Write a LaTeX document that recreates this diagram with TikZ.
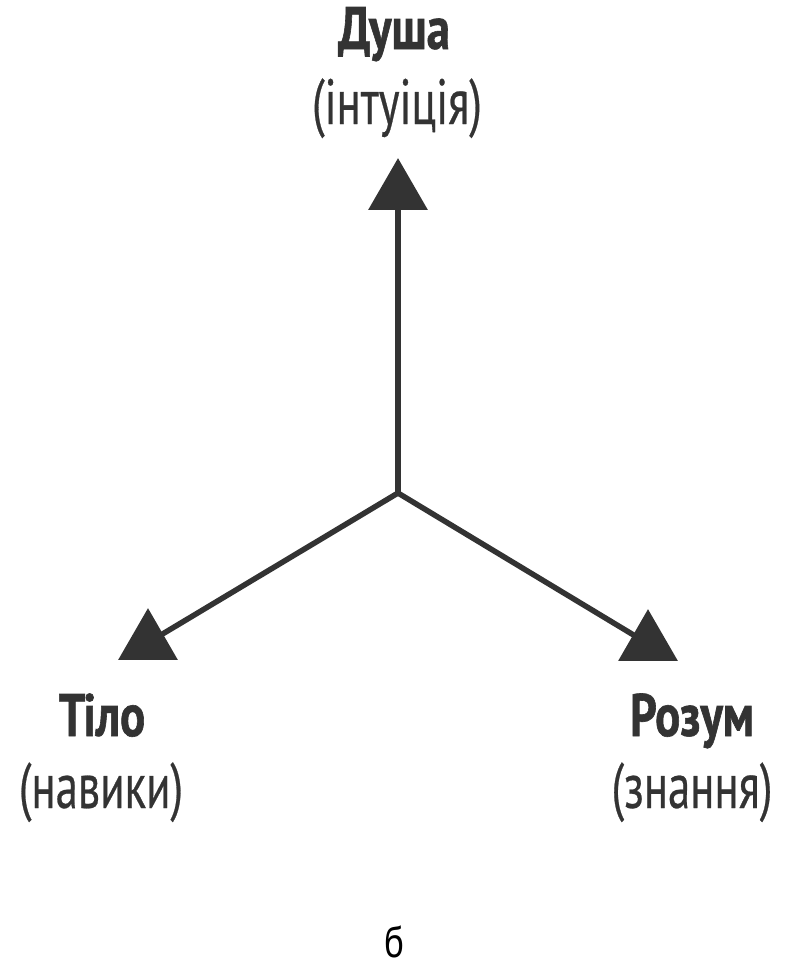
\documentclass[tikz,border=0pt]{standalone}
\usepackage{fontspec}
\setmainfont{PT Sans}[FakeStretch=0.70, FakeBold=0.4]
\newfontfamily\headfont{PT Sans}[FakeStretch=0.78, BoldFeatures={FakeBold=1}]
\newfontfamily\labelfont{PT Sans}[FakeStretch=0.85]
\usetikzlibrary{shapes.geometric}
\definecolor{ink}{HTML}{333333}
\tikzset{
  head/.style={regular polygon, regular polygon sides=3, minimum size=69pt,
               inner sep=0pt, fill=ink, draw=none},
  shaft/.style={draw=ink, line width=5.5pt, line cap=round},
  title/.style={anchor=base, text=ink, font=\headfont\fontsize{60}{68}\selectfont\bfseries, inner sep=0pt},
  note/.style={anchor=base, text=ink, font=\fontsize{64}{72}\selectfont, inner sep=0pt},
}
\begin{document}
\begin{tikzpicture}[x=1pt, y=-1pt]
  \useasboundingbox (0,0) rectangle (789,977);
  % arrow heads (upright triangles)
  \node[head] (hsoul) at (398,192.7) {};
  \node[head] (hbody) at (148,642.7) {};
  \node[head] (hmind) at (648,643.7) {};
  % junction and shafts
  \coordinate (o) at (398,493);
  \draw[shaft] (o) -- (hsoul.center);
  \draw[shaft] (o) -- (hbody.center);
  \draw[shaft] (o) -- (hmind.center);
  % labels
  \node[title] (soul) at (394,49) {Душа};
  \node[note] (soulsub) at (397,124) {(інтуіція)};
  \node[title] (body) at (102,736) {Тіло};
  \node[note] (bodysub) at (101,808) {(навики)};
  \node[title] (mind) at (692,736) {Розум};
  \node[note] (mindsub) at (692,808) {(знання)};
  \node[anchor=base, inner sep=0pt, font=\labelfont\fontsize{44}{50}\selectfont] (tag) at (395,957) {б};
\end{tikzpicture}
\end{document}
